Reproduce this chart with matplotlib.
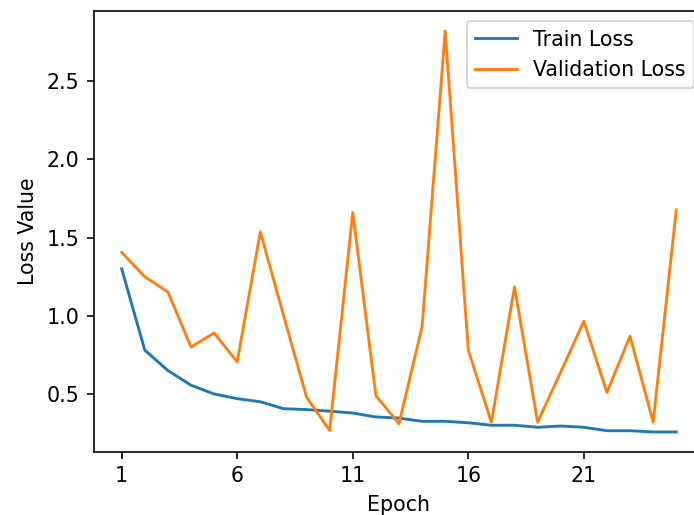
import matplotlib
matplotlib.use("Agg")
import matplotlib.pyplot as plt

epochs = list(range(1, 26))
train_loss = [1.30, 0.78, 0.65, 0.556, 0.50, 0.47, 0.45, 0.406, 0.40, 0.39,
              0.378, 0.353, 0.346, 0.325, 0.325, 0.316, 0.30, 0.30, 0.287, 0.295,
              0.287, 0.265, 0.265, 0.257, 0.257]
val_loss = [1.405, 1.249, 1.153, 0.80, 0.89, 0.705, 1.537, 1.005, 0.48, 0.267,
            1.66, 0.49, 0.31, 0.93, 2.82, 0.78, 0.32, 1.185, 0.32, 0.64,
            0.965, 0.51, 0.87, 0.32, 1.676]
xticks = [1, 6, 11, 16, 21]

DPI = 148
fig = plt.figure(figsize=(694 / DPI, 515 / DPI), dpi=DPI)
ax = fig.add_axes([0.1354, 0.1223, 0.879, 0.8563])
ax.plot(epochs, train_loss, color="#1f77b4", lw=1.4, label="Train Loss")
ax.plot(epochs, val_loss, color="#ff7f0e", lw=1.4, label="Validation Loss")
ax.set_xticks(xticks)
ax.set_xlabel("Epoch")
ax.set_ylabel("Loss Value")
ax.legend(loc="upper right")
fig.savefig("out.png", dpi=DPI)
